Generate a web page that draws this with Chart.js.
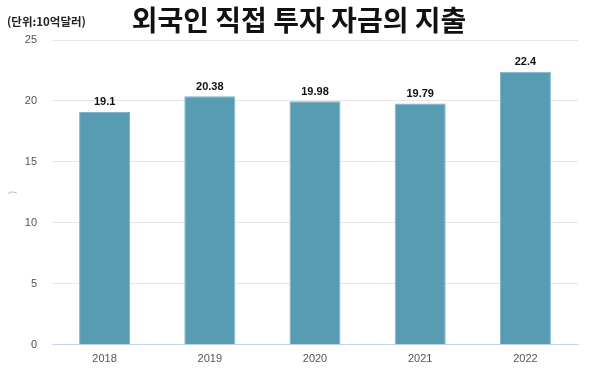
<!DOCTYPE html>
<html>
<head>
<meta charset="utf-8">
<script src="https://cdn.jsdelivr.net/npm/chart.js@4"></script>
<style>
  html, body { margin: 0; padding: 0; background: #fff; }
  #wrap { width: 600px; height: 382px; }
</style>
</head>
<body>
<div id="wrap"><canvas id="fdi-chart" width="600" height="382"></canvas></div>
<script>
const years = ['2018', '2019', '2020', '2021', '2022'];
const spending = [19.1, 20.38, 19.98, 19.79, 22.4];
const yTicks = [0, 5, 10, 15, 20, 25];

const chartTitle = '외국인 직접 투자 자금의 지출';
const unitLabel = '(단위:10억달러)';

// title, unit note and value labels drawn on top
const textPlugin = {
    id: 'textPlugin',
    afterDraw(chart) {
        const ctx = chart.ctx;
        ctx.save();
        ctx.fillStyle = '#111';
        ctx.textAlign = 'center';
        ctx.textBaseline = 'middle';
        ctx.font = 'bold 28px "Noto Sans CJK KR"';
        ctx.fillText(chartTitle, 299, 20);

        ctx.textAlign = 'left';
        ctx.font = 'bold 11.5px "Noto Sans CJK KR"';
        ctx.fillStyle = '#222';
        ctx.fillText(unitLabel, 7, 22);

        ctx.textAlign = 'center';
        ctx.textBaseline = 'bottom';
        ctx.font = 'bold 11px "Liberation Sans"';
        ctx.fillStyle = '#111';
        const meta = chart.getDatasetMeta(0);
        meta.data.forEach((bar, i) => {
            ctx.fillText(String(spending[i]), bar.x, bar.y - 4);
        });
        ctx.restore();
    }
};

new Chart(document.getElementById('fdi-chart').getContext('2d'), {
    type: 'bar',
    data: {
        labels: years,
        datasets: [{
            data: spending,
            backgroundColor: '#589cb3',
            borderColor: '#7fb4c6',
            borderWidth: 1,
            barPercentage: 0.97,
            categoryPercentage: 0.5
        }]
    },
    options: {
        responsive: false,
        animation: false,
        layout: {
            padding: { top: 40, right: 22, bottom: 8, left: 7 }
        },
        plugins: {
            legend: { display: false },
            title: { display: false },
            tooltip: { enabled: false }
        },
        scales: {
            x: {
                grid: { display: false, drawTicks: false },
                border: { color: '#c9d6ea', width: 1 },
                ticks: {
                    color: '#555',
                    padding: 8,
                    font: { family: 'Liberation Sans', size: 11 }
                }
            },
            y: {
                min: 0,
                max: 25,
                afterBuildTicks(scale) {
                    scale.ticks = yTicks.map(v => ({ value: v }));
                },
                afterFit(scale) {
                    scale.width = 45;
                },
                grid: { color: '#e6e6e6', drawTicks: false },
                border: { display: false },
                title: {
                    display: true,
                    text: ')',
                    color: '#aaa',
                    font: { size: 9 },
                    padding: 0
                },
                ticks: {
                    color: '#555',
                    padding: 15,
                    font: { family: 'Liberation Sans', size: 11 }
                }
            }
        }
    },
    plugins: [textPlugin]
});
</script>
</body>
</html>
